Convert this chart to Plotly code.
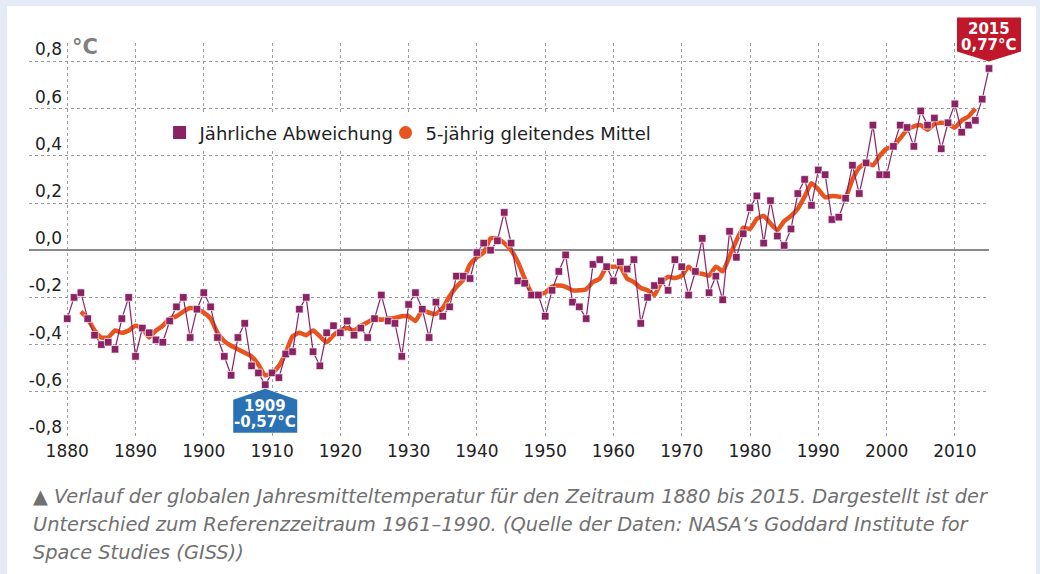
import plotly.graph_objects as go

# ---------------- data ----------------
first_year = 1880
anomaly = [
    -0.29, -0.20, -0.18, -0.29, -0.36, -0.40, -0.39, -0.42, -0.29, -0.20,   # 1880-1889
    -0.45, -0.33, -0.35, -0.38, -0.39, -0.30, -0.24, -0.20, -0.37, -0.25,   # 1890-1899
    -0.18, -0.24, -0.37, -0.45, -0.53, -0.37, -0.31, -0.49, -0.52, -0.57,   # 1900-1909
    -0.52, -0.54, -0.44, -0.43, -0.25, -0.20, -0.43, -0.49, -0.35, -0.32,   # 1910-1919
    -0.35, -0.30, -0.36, -0.33, -0.37, -0.29, -0.19, -0.30, -0.31, -0.45,   # 1920-1929
    -0.23, -0.18, -0.25, -0.37, -0.22, -0.28, -0.24, -0.11, -0.11, -0.12,   # 1930-1939
    -0.01, 0.03, 0.00, 0.04, 0.16, 0.03, -0.13, -0.14, -0.19, -0.19,        # 1940-1949
    -0.28, -0.17, -0.09, -0.02, -0.22, -0.24, -0.29, -0.06, -0.04, -0.07,   # 1950-1959
    -0.13, -0.05, -0.08, -0.04, -0.31, -0.20, -0.15, -0.13, -0.17, -0.04,   # 1960-1969
    -0.07, -0.19, -0.09, 0.05, -0.18, -0.11, -0.21, 0.08, -0.03, 0.07,      # 1970-1979
    0.18, 0.23, 0.03, 0.21, 0.06, 0.02, 0.09, 0.24, 0.30, 0.19,             # 1980-1989
    0.34, 0.32, 0.13, 0.14, 0.22, 0.36, 0.24, 0.37, 0.53, 0.32,             # 1990-1999
    0.32, 0.44, 0.53, 0.52, 0.44, 0.59, 0.53, 0.56, 0.43, 0.54,             # 2000-2009
    0.62, 0.50, 0.53, 0.55, 0.64, 0.77,                                     # 2010-2015
]
years = list(range(first_year, first_year + len(anomaly)))

ma_first_year = 1882
moving_avg = [
    -0.26, -0.29, -0.34, -0.37, -0.37, -0.34, -0.35, -0.34,                 # 1882-1889
    -0.32, -0.33, -0.37, -0.34, -0.32, -0.29, -0.28, -0.26, -0.245, -0.25,  # 1890-1899
    -0.265, -0.29, -0.35, -0.385, -0.405, -0.42, -0.435, -0.45, -0.485, -0.53,  # 1900-1909
    -0.52, -0.49, -0.435, -0.365, -0.35, -0.36, -0.34, -0.365, -0.39, -0.36,    # 1910-1919
    -0.34, -0.33, -0.34, -0.32, -0.305, -0.29, -0.295, -0.29, -0.287, -0.28,    # 1920-1929
    -0.28, -0.30, -0.254, -0.265, -0.27, -0.245, -0.195, -0.155, -0.125, -0.06, # 1930-1939
    -0.03, -0.01, 0.05, 0.05, 0.03, 0.00, -0.05, -0.12, -0.18, -0.185,          # 1940-1949
    -0.18, -0.155, -0.15, -0.155, -0.17, -0.17, -0.165, -0.135, -0.12, -0.07,   # 1950-1959
    -0.07, -0.07, -0.12, -0.135, -0.16, -0.17, -0.19, -0.135, -0.113, -0.118,   # 1960-1969
    -0.108, -0.07, -0.096, -0.10, -0.108, -0.07, -0.09, -0.025, 0.04, 0.095,    # 1970-1979
    0.09, 0.133, 0.145, 0.113, 0.085, 0.123, 0.145, 0.176, 0.227, 0.284,        # 1980-1989
    0.258, 0.224, 0.23, 0.227, 0.227, 0.30, 0.35, 0.37, 0.36, 0.40,             # 1990-1999
    0.43, 0.44, 0.475, 0.51, 0.525, 0.53, 0.51, 0.535, 0.54, 0.536,             # 2000-2009
    0.52, 0.55, 0.567, 0.60,                                                    # 2010-2013
]
ma_years = list(range(ma_first_year, ma_first_year + len(moving_avg)))

x_tick_vals = list(range(1880, 2011, 10))
x_tick_text = [str(v) for v in x_tick_vals]
y_tick_vals = [-0.8, -0.6, -0.4, -0.2, 0.0, 0.2, 0.4, 0.6, 0.8]
y_tick_text = ["-0,8", "-0,6", "-0,4", "-0,2", "0,0", "0,2", "0,4", "0,6", "0,8"]

legend_names = ["Jährliche Abweichung", "5-jährig gleitendes Mittel"]
min_year, min_label = 1909, "-0,57°C"
max_year, max_label = 2015, "0,77°C"
unit_label = "°C"
caption_lines = [
    "▲ Verlauf der globalen Jahresmitteltemperatur für den Zeitraum 1880 bis 2015. Dargestellt ist der",
    "Unterschied zum Referenzzeitraum 1961–1990. (Quelle der Daten: NASA‘s Goddard Institute for",
    "Space Studies (GISS))",
]

# ---------------- styling ----------------
PURPLE = "#8a2264"
ORANGE = "#e8541d"
BLUE = "#2a72b4"
RED = "#c1172b"
GRID = "#9c9c9c"
BG = "#e4ebf7"
FONT = "DejaVu Sans"

X_RANGE = [1874.4, 2015.0]
Y_RANGE = [-0.8, 0.878]

fig = go.Figure()

fig.add_trace(go.Scatter(
    x=ma_years, y=moving_avg, mode="lines",
    line=dict(color=ORANGE, width=4.5, shape="spline", smoothing=0.5),
    showlegend=False, hoverinfo="skip",
))
fig.add_trace(go.Scatter(
    x=years, y=anomaly, mode="lines+markers",
    line=dict(color=PURPLE, width=1.2),
    marker=dict(symbol="square", size=7.5, color=PURPLE,
                line=dict(color="rgba(255,255,255,0.65)", width=1)),
    cliponaxis=False, showlegend=False,
))
# legend entries
fig.add_trace(go.Scatter(
    x=[None], y=[None], mode="markers", name=legend_names[0],
    marker=dict(symbol="square", size=13, color=PURPLE), legendwidth=181,
))
fig.add_trace(go.Scatter(
    x=[None], y=[None], mode="markers", name=legend_names[1],
    marker=dict(symbol="circle", size=13, color=ORANGE),
))

# white panel
fig.add_shape(type="rect", xref="paper", yref="paper",
              x0=-0.0229, x1=1.049, y0=-0.35, y1=1.093,
              fillcolor="white", line=dict(width=0), layer="below")

# minimum (1909) marker box - blue, pointing up
min_val = anomaly[years.index(min_year)]
fig.add_shape(type="path", xref="x", yref="y",
              xsizemode="pixel", ysizemode="pixel",
              xanchor=min_year, yanchor=min_val,
              path="M -32,-15 L 0,-4 L 32,-15 L 32,-48 L -32,-48 Z",
              fillcolor=BLUE, line=dict(width=0), layer="above")
for txt, shift in [(str(min_year), -21.5), (min_label, -37.5)]:
    fig.add_annotation(x=min_year, y=min_val, xref="x", yref="y",
                       text=f"<b>{txt}</b>", showarrow=False, yshift=shift,
                       font=dict(family=FONT, size=15, color="white"))

# maximum (2015) marker box - red, pointing down
max_val = anomaly[years.index(max_year)]
px_max = (max_year - X_RANGE[0]) / (X_RANGE[1] - X_RANGE[0])
py_max = (max_val - Y_RANGE[0]) / (Y_RANGE[1] - Y_RANGE[0])
fig.add_shape(type="path", xref="paper", yref="paper",
              xsizemode="pixel", ysizemode="pixel",
              xanchor=px_max, yanchor=py_max,
              path="M -32,17 L 0,7 L 32,17 L 32,51 L -32,51 Z",
              fillcolor=RED, line=dict(width=0), layer="above")
for txt, shift in [(str(max_year), 39), (max_label, 23.3)]:
    fig.add_annotation(x=max_year, y=max_val, xref="x", yref="y",
                       text=f"<b>{txt}</b>", showarrow=False, yshift=shift,
                       font=dict(family=FONT, size=15, color="white"))

# unit label
fig.add_annotation(x=1880, y=0.8, xref="x", yref="y", xanchor="left",
                   text=f"<b>{unit_label}</b>", showarrow=False,
                   xshift=3, yshift=14,
                   font=dict(family=FONT, size=21, color="#808080"))

# caption
for i, line in enumerate(caption_lines):
    fig.add_annotation(x=0.002, y=0, xref="paper", yref="paper",
                       xanchor="left", yanchor="middle",
                       text=f"<i>{line}</i>", showarrow=False,
                       yshift=-57.5 - 28.2 * i,
                       font=dict(family=FONT, size=19.4, color="#707070"))

fig.update_layout(
    width=1040, height=574,
    margin=dict(l=29, r=51, t=43, b=135, autoexpand=False),
    paper_bgcolor=BG, plot_bgcolor="white",
    font=dict(family=FONT, size=17, color="#222222"),
    showlegend=True,
    legend=dict(orientation="h", x=0.136, y=0.773, xanchor="left", yanchor="middle",
                bgcolor="white", font=dict(family=FONT, size=18, color="#222222"),
                itemclick=False, itemdoubleclick=False),
    xaxis=dict(range=X_RANGE, tickvals=x_tick_vals, ticktext=x_tick_text,
               showgrid=True, gridcolor=GRID, griddash="dot", gridwidth=1,
               zeroline=False, showline=False, ticks="", automargin=False,
               tickfont=dict(family=FONT, size=17, color="#222222")),
    yaxis=dict(range=Y_RANGE, tickvals=y_tick_vals, ticktext=y_tick_text,
               showgrid=True, gridcolor=GRID, griddash="dot", gridwidth=1,
               zeroline=True, zerolinecolor="#8a8a8a", zerolinewidth=2,
               showline=False, ticks="", automargin=False,
               ticklabelstandoff=-34, ticklabelshift=-12,
               tickfont=dict(family=FONT, size=17, color="#222222")),
)

fig.write_html("out.html",
               config={"displayModeBar": False},
               post_script="document.body.style.margin='0';document.body.style.padding='0';")
